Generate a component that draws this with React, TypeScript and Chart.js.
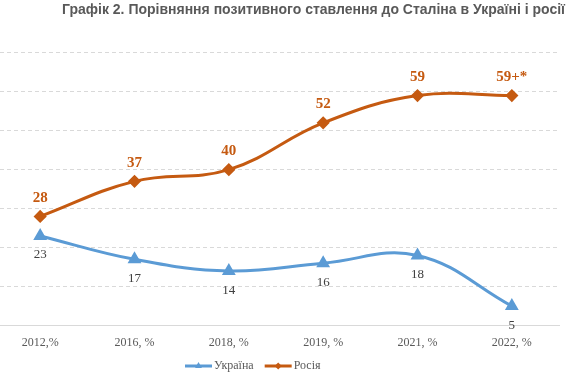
import React, { useEffect, useRef } from 'react';
import { Chart, registerables } from 'chart.js';

Chart.register(...registerables);

const categories = ['2012,%', '2016, %', '2018, %', '2019, %', '2021, %', '2022, %'];
const ukraineValues = [23, 17, 14, 16, 18, 5];
const russiaValues = [28, 37, 40, 52, 59, 59];
const ukraineLabels = ['23', '17', '14', '16', '18', '5'];
const russiaLabels = ['28', '37', '40', '52', '59', '59+*'];
const seriesNames = ['Україна', 'Росія'];
const titleText = 'Графік 2. Порівняння позитивного ставлення до Сталіна в Україні і росії';
const yMin = 0;
const yMax = 70;
const yStep = 10;

const BLUE = '#5B9BD5';
const ORANGE = '#C55A11';
const SERIF = '"Liberation Serif", "Times New Roman", serif';
const SANS = '"Liberation Sans", Arial, sans-serif';

const W = 589;
const H = 375;
const OFFSET_X = -7;

function drawMarker(ctx: CanvasRenderingContext2D, style: string, x: number, y: number, r: number, color: string) {
  ctx.fillStyle = color;
  ctx.beginPath();
  if (style === 'triangle') {
    ctx.moveTo(x, y - r);
    ctx.lineTo(x + r * 0.866, y + r * 0.5);
    ctx.lineTo(x - r * 0.866, y + r * 0.5);
  } else {
    ctx.moveTo(x, y - r);
    ctx.lineTo(x + r, y);
    ctx.lineTo(x, y + r);
    ctx.lineTo(x - r, y);
  }
  ctx.closePath();
  ctx.fill();
}

const labelsPlugin = {
  id: 'valueLabels',
  afterDatasetsDraw(chart: any) {
    const ctx: CanvasRenderingContext2D = chart.ctx;
    ctx.save();
    ctx.textAlign = 'center';
    ctx.textBaseline = 'alphabetic';
    const ukr = chart.getDatasetMeta(0).data;
    ctx.font = `13px ${SERIF}`;
    ctx.fillStyle = '#404040';
    ukr.forEach((pt: any, i: number) => {
      ctx.fillText(ukraineLabels[i], pt.x, pt.y + 22.5);
    });
    const rus = chart.getDatasetMeta(1).data;
    ctx.font = `bold 15px ${SERIF}`;
    ctx.fillStyle = ORANGE;
    rus.forEach((pt: any, i: number) => {
      ctx.fillText(russiaLabels[i], pt.x, pt.y - 14.5);
    });
    ctx.restore();
  },
};

const decorPlugin = {
  id: 'decor',
  afterDraw(chart: any) {
    const ctx: CanvasRenderingContext2D = chart.ctx;
    ctx.save();
    // title
    ctx.font = `bold 14px ${SANS}`;
    ctx.fillStyle = '#595959';
    ctx.textAlign = 'right';
    ctx.textBaseline = 'alphabetic';
    ctx.fillText(titleText, 565 - OFFSET_X, 14);
    // legend
    ctx.font = `12px ${SERIF}`;
    ctx.textAlign = 'left';
    ctx.textBaseline = 'middle';
    const colors = [BLUE, ORANGE];
    const styles = ['triangle', 'diamond'];
    let x = 185 - OFFSET_X;
    const y = 366;
    seriesNames.forEach((name, i) => {
      ctx.strokeStyle = colors[i];
      ctx.lineWidth = 3;
      ctx.beginPath();
      ctx.moveTo(x, y);
      ctx.lineTo(x + 27, y);
      ctx.stroke();
      drawMarker(ctx, styles[i], x + 13.5, y, styles[i] === 'triangle' ? 4 : 3.5, colors[i]);
      ctx.fillStyle = '#595959';
      ctx.fillText(name, x + 29, y);
      x += 29 + ctx.measureText(name).width + 11;
    });
    ctx.restore();
  },
};

export default function App() {
  const ref = useRef<HTMLCanvasElement | null>(null);
  useEffect(() => {
    if (!ref.current) return;
    const chart = new Chart(ref.current, {
      type: 'line',
      data: {
        labels: categories,
        datasets: [
          {
            label: seriesNames[0],
            data: ukraineValues,
            borderColor: BLUE,
            backgroundColor: BLUE,
            borderWidth: 3,
            pointStyle: 'triangle',
            pointRadius: 5,
            pointHoverRadius: 5,
            tension: 0.4,
          },
          {
            label: seriesNames[1],
            data: russiaValues,
            borderColor: ORANGE,
            backgroundColor: ORANGE,
            borderWidth: 3,
            pointStyle: 'rectRot',
            pointRadius: 4.5,
            pointHoverRadius: 4.5,
            tension: 0.4,
          },
        ],
      },
      options: {
        animation: false,
        responsive: false,
        maintainAspectRatio: false,
        devicePixelRatio: 1,
        layout: { autoPadding: false, padding: { top: 52.7, right: 23, left: 0, bottom: 15 } },
        plugins: {
          legend: { display: false },
          title: { display: false },
          tooltip: { enabled: false },
        },
        scales: {
          x: {
            type: 'category',
            offset: true,
            grid: { display: false, drawTicks: false },
            border: { display: true, color: '#d9d9d9', width: 1 },
            ticks: {
              font: { family: SERIF, size: 12 },
              color: '#595959',
              padding: 10,
              maxRotation: 0,
              autoSkip: false,
            },
          },
          y: {
            min: yMin,
            max: yMax,
            ticks: { display: false, stepSize: yStep },
            grid: { color: '#d9d9d9', lineWidth: 1, drawTicks: false },
            border: { display: false, dash: [4, 3] },
          },
        },
      },
      plugins: [labelsPlugin, decorPlugin],
    });
    return () => chart.destroy();
  }, []);
  return (
    <div style={{ position: 'absolute', left: OFFSET_X, top: 0, width: W, height: H }}>
      <canvas ref={ref} width={W} height={H} style={{ width: W, height: H, display: 'block' }} />
    </div>
  );
}
